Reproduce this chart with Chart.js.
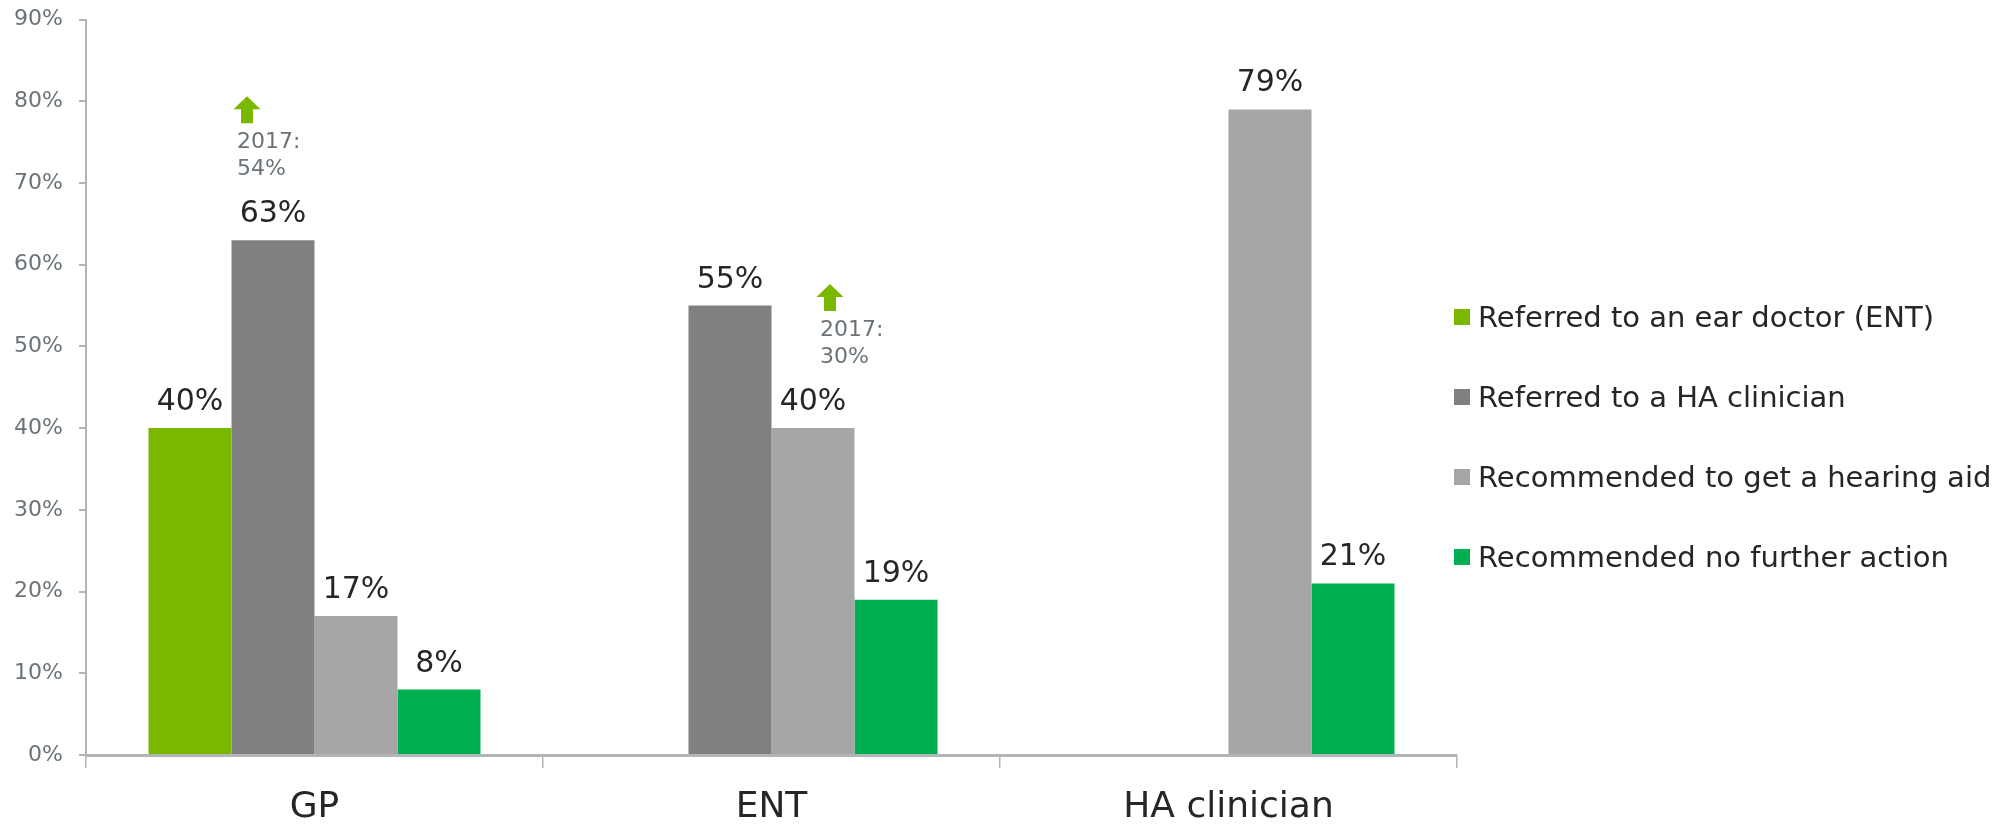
<!DOCTYPE html>
<html><head><meta charset="utf-8">
<script src="https://cdn.jsdelivr.net/npm/chart.js@4.4.1/dist/chart.umd.min.js"></script>
<style>html,body{margin:0;padding:0;background:#fff}#wrap{width:2008px;height:825px}</style>
</head><body><div id="wrap"><canvas id="c" width="2008" height="825"></canvas></div>
<script>
// ---- data ----
const categories = ['GP', 'ENT', 'HA clinician'];
const seriesNames = ['Referred to an ear doctor (ENT)', 'Referred to a HA clinician', 'Recommended to get a hearing aid', 'Recommended no further action'];
const referredToENT = [40, null, null];
const referredToHAClinician = [63, 55, null];
const recommendedHearingAid = [17, 40, 79];
const recommendedNoAction = [8, 19, 21];
const yTickValues = [0, 10, 20, 30, 40, 50, 60, 70, 80, 90];
const seriesColors = ['#7AB800', '#808080', '#A6A6A6', '#00B050'];
const previousYear = '2017';
const previousCategory = [0, 1];
const previousSeries = [1, 2];
const previousValues = [54, 30];
const previousOffsetX = [-26, 17];

const FONT = '"DejaVu Sans", Verdana, sans-serif';
const TXT = '#262626';
const GREY_TXT = '#6B7379';
const AXIS = '#B2B5B8';

const seriesData = [referredToENT, referredToHAClinician, recommendedHearingAid, recommendedNoAction];

const dataLabels = {
  id: 'dataLabels',
  afterDatasetsDraw(chart) {
    const ctx = chart.ctx;
    ctx.save();
    ctx.textBaseline = 'alphabetic';
    chart.data.datasets.forEach((ds, di) => {
      const meta = chart.getDatasetMeta(di);
      meta.data.forEach((el, i) => {
        const v = ds.data[i];
        if (v === null || v === undefined) return;
        ctx.font = '30px ' + FONT;
        ctx.fillStyle = TXT;
        ctx.textAlign = 'center';
        ctx.fillText(v + '%', el.x, el.y - 18);
      });
    });
    // previous-year annotations
    previousValues.forEach((pv, k) => {
      const el = chart.getDatasetMeta(previousSeries[k]).data[previousCategory[k]];
      const cx = el.x + previousOffsetX[k];
      const top = el.y - 144;
      ctx.fillStyle = seriesColors[0];
      ctx.beginPath();
      ctx.moveTo(cx, top);
      ctx.lineTo(cx + 13.5, top + 13);
      ctx.lineTo(cx + 6, top + 13);
      ctx.lineTo(cx + 6, top + 27);
      ctx.lineTo(cx - 6, top + 27);
      ctx.lineTo(cx - 6, top + 13);
      ctx.lineTo(cx - 13.5, top + 13);
      ctx.closePath();
      ctx.fill();
      ctx.fillStyle = GREY_TXT;
      ctx.font = '22px ' + FONT;
      ctx.textAlign = 'left';
      ctx.fillText(previousYear + ':', cx - 10, top + 52);
      ctx.fillText(pv + '%', cx - 10, top + 79);
    });
    ctx.restore();
  }
};

const customLegend = {
  id: 'customLegend',
  afterDraw(chart) {
    const ctx = chart.ctx;
    ctx.save();
    ctx.font = '29px ' + FONT;
    ctx.textAlign = 'left';
    ctx.textBaseline = 'alphabetic';
    const x0 = chart.chartArea.right - 3;
    chart.data.datasets.forEach((ds, i) => {
      const cy = 317 + i * 80;
      ctx.fillStyle = ds.backgroundColor;
      ctx.fillRect(x0, cy - 8, 16, 16);
      ctx.fillStyle = TXT;
      ctx.fillText(ds.label, x0 + 24, cy + 10);
    });
    ctx.restore();
  }
};

new Chart(document.getElementById('c'), {
  type: 'bar',
  data: {
    labels: categories,
    datasets: seriesNames.map((name, i) => ({
      label: name,
      data: seriesData[i],
      backgroundColor: seriesColors[i],
      borderWidth: 0,
      categoryPercentage: 0.7265,
      barPercentage: 1.0
    }))
  },
  options: {
    responsive: false,
    devicePixelRatio: 1,
    animation: false,
    layout: { padding: { top: 19.5, right: 551, bottom: 0, left: 0 } },
    plugins: { legend: { display: false }, tooltip: { enabled: false } },
    scales: {
      x: {
        afterFit(scale) { scale.height = 70; },
        border: { display: true, color: AXIS, width: 3 },
        grid: { display: true, drawOnChartArea: false, drawTicks: true, tickLength: 13, color: AXIS, lineWidth: 1.5, offset: true },
        ticks: { color: TXT, font: { family: FONT, size: 36 }, padding: 18, maxRotation: 0 }
      },
      y: {
        min: 0, max: 90,
        afterFit(scale) { scale.width = 86; scale.paddingTop = 0; scale.paddingBottom = 0; },
        afterBuildTicks(scale) { scale.ticks = yTickValues.map(v => ({ value: v })); },
        border: { display: true, color: AXIS, width: 2 },
        grid: { display: true, drawOnChartArea: false, drawTicks: true, tickLength: 7, color: AXIS, lineWidth: 2 },
        ticks: { color: GREY_TXT, font: { family: FONT, size: 22 }, padding: 16, callback: v => v + '%' }
      }
    }
  },
  plugins: [dataLabels, customLegend]
});
</script></body></html>
